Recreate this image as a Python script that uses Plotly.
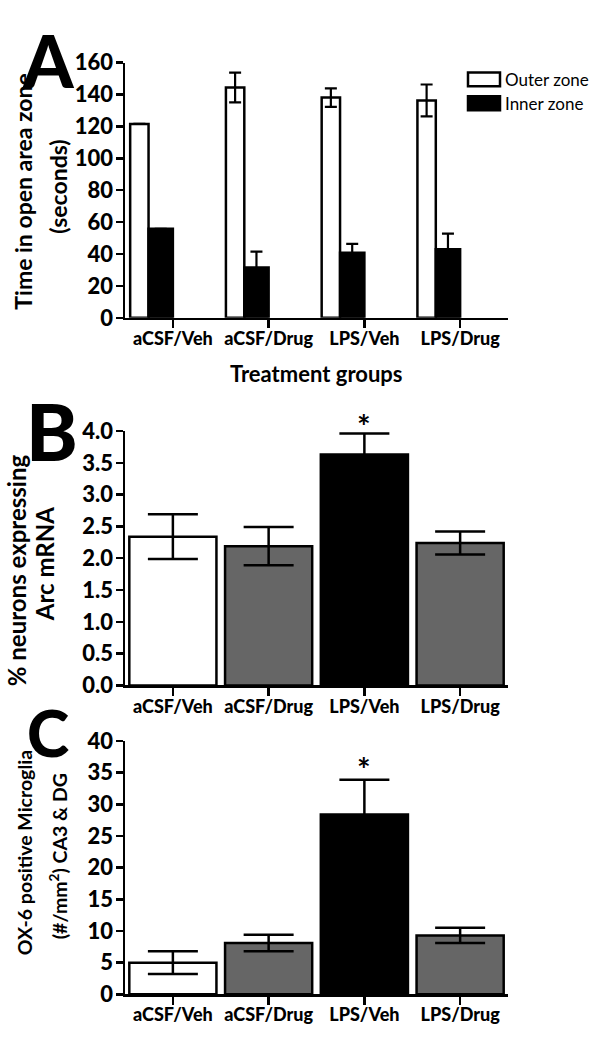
import plotly.graph_objects as go

W, H = 600, 1038

# ---------------- data ----------------
groups = ["aCSF/Veh", "aCSF/Drug", "LPS/Veh", "LPS/Drug"]

# Panel A: time in open area zone (seconds)
outer_zone = [121.5, 144.3, 138.0, 136.2]
outer_err = [None, 9.3, 5.8, 10.0]
inner_zone = [55.8, 31.5, 40.8, 42.9]
inner_err = [None, 10.0, 5.6, 9.8]

# Panel B: % neurons expressing Arc mRNA
arc_mrna = [2.34, 2.19, 3.63, 2.24]
arc_err = [0.35, 0.30, 0.33, 0.18]

# Panel C: OX-6 positive microglia (#/mm2)
ox6 = [5.0, 8.1, 28.4, 9.3]
ox6_err = [1.8, 1.3, 5.5, 1.2]

bar_colors = ["white", "#666666", "black", "#666666"]
significant = [False, False, True, False]

# ---------------- helpers ----------------
def fx(px):
    return px / W

def fy(py):
    # slight vertical stretch about the page centre
    py = 519 + (py - 519) * 1.02
    return 1 - py / H

FONT = "Lato"
BLACK = "black"
LW = 2.5
HEAVY = 900

fig = go.Figure()

pos = list(range(len(groups)))

# Panel A bars
fig.add_trace(go.Bar(
    x=pos, y=outer_zone, name="Outer zone",
    offset=-0.446, width=0.192,
    marker=dict(color="white", line=dict(color=BLACK, width=LW)),
    error_y=dict(type="data", array=outer_err, visible=True, color=BLACK, thickness=2.2, width=6),
    xaxis="x", yaxis="y", showlegend=False,
))
fig.add_trace(go.Bar(
    x=pos, y=inner_zone, name="Inner zone",
    offset=-0.254, width=0.254,
    marker=dict(color="black", line=dict(color=BLACK, width=LW)),
    error_y=dict(type="data", array=inner_err, visible=True, color=BLACK, thickness=2.2, width=6),
    xaxis="x", yaxis="y", showlegend=False,
))

# Panel B bars
fig.add_trace(go.Bar(
    x=pos, y=arc_mrna, width=0.91,
    marker=dict(color=bar_colors, line=dict(color=BLACK, width=LW)),
    error_y=dict(type="data", array=arc_err, visible=True, color=BLACK, thickness=2.5, width=25),
    xaxis="x2", yaxis="y2", showlegend=False,
))

# Panel C bars
fig.add_trace(go.Bar(
    x=pos, y=ox6, width=0.91,
    marker=dict(color=bar_colors, line=dict(color=BLACK, width=LW)),
    error_y=dict(type="data", array=ox6_err, visible=True, color=BLACK, thickness=2.5, width=25),
    xaxis="x3", yaxis="y3", showlegend=False,
))

tickfont = dict(family=FONT, size=22, color=BLACK, weight=HEAVY)
xtickfont = dict(family=FONT, size=18, color=BLACK, weight=HEAVY)

def xax(anchor):
    return dict(
        domain=[fx(125), fx(508)], range=[-0.5, 3.5],
        tickvals=pos, ticktext=groups,
        ticks="outside", ticklen=8, tickwidth=LW, tickcolor=BLACK,
        showline=True, linewidth=LW, linecolor=BLACK,
        showgrid=False, zeroline=False, tickfont=xtickfont,
        ticklabelstandoff=-5,
        anchor=anchor, fixedrange=True,
    )

def yax(top_px, bot_px, rng, dtick, fmt, anchor):
    return dict(
        domain=[fy(bot_px), fy(top_px)], range=rng, dtick=dtick, tick0=0,
        tickformat=fmt,
        ticks="outside", ticklen=7, tickwidth=LW, tickcolor=BLACK,
        showline=True, linewidth=LW, linecolor=BLACK,
        showgrid=False, zeroline=False, tickfont=tickfont,
        ticklabelstandoff=-2,
        anchor=anchor, fixedrange=True,
    )

fig.update_layout(
    width=W, height=H,
    margin=dict(l=0, r=0, t=0, b=0),
    paper_bgcolor="white", plot_bgcolor="white",
    barmode="overlay", bargap=0,
    xaxis=xax("y"),
    yaxis=yax(59, 316, [0, 160], 20, "d", "x"),
    xaxis2=xax("y2"),
    yaxis2=yax(430, 686, [0, 4], 0.5, ".1f", "x2"),
    xaxis3=xax("y3"),
    yaxis3=yax(742, 997, [0, 40], 5, "d", "x3"),
    font=dict(family=FONT, color=BLACK),
)

ann = []
# Panel letters
ann.append(dict(text="A", x=fx(48), y=1, xref="paper", yref="paper",
                xanchor="center", yanchor="top", showarrow=False, yshift=-1,
                font=dict(family=FONT, size=72, color=BLACK, weight=HEAVY)))
for letter, cx, cy, sz in [("B", 52, 430, 78), ("C", 48, 733, 64)]:
    ann.append(dict(text=letter, x=fx(cx), y=fy(cy), xref="paper", yref="paper",
                    xanchor="center", yanchor="middle", showarrow=False,
                    font=dict(family=FONT, size=sz, color=BLACK, weight=HEAVY)))

# Y-axis titles (one annotation per line)
def vtitle(text, cx, cy, size):
    ann.append(dict(text=text, x=fx(cx), y=fy(cy), xref="paper", yref="paper",
                    textangle=-90, showarrow=False, xanchor="center", yanchor="middle",
                    font=dict(family=FONT, size=size, color=BLACK, weight="bold")))

vtitle("Time in open area zone", 23, 189, 23)
vtitle("(seconds)", 58, 184, 23)
vtitle("% neurons expressing", 16, 570, 24)
vtitle("Arc mRNA", 44, 564, 24)
vtitle("OX-6 positive Microglia", 24, 855, 19.5)
vtitle("(#/mm<sup>2</sup>) CA3 &amp; DG", 58, 858, 19.5)

# X title panel A
ann.append(dict(text="Treatment groups", x=fx(316), y=fy(372), xref="paper", yref="paper",
                showarrow=False, xanchor="center", yanchor="middle",
                font=dict(family=FONT, size=22, color=BLACK, weight="bold")))

# Significance stars
for i, sig in enumerate(significant):
    if sig:
        ann.append(dict(text="*", x=i, y=arc_mrna[i] + arc_err[i], xref="x2", yref="y2",
                        showarrow=False, yanchor="bottom", yshift=-14,
                        font=dict(family=FONT, size=32, color=BLACK, weight="bold")))
        ann.append(dict(text="*", x=i, y=ox6[i] + ox6_err[i], xref="x3", yref="y3",
                        showarrow=False, yanchor="bottom", yshift=-11,
                        font=dict(family=FONT, size=32, color=BLACK, weight="bold")))

# Legend (panel A)
legend_items = [("Outer zone", "white", 76), ("Inner zone", "black", 100)]
shapes = []
for label, col, cy in legend_items:
    shapes.append(dict(type="rect", xref="paper", yref="paper",
                       x0=fx(468), x1=fx(500), y0=fy(cy + 7), y1=fy(cy - 7),
                       fillcolor=col, line=dict(color=BLACK, width=2.5)))
    ann.append(dict(text=label, x=fx(503), y=fy(cy), xref="paper", yref="paper",
                    showarrow=False, xanchor="left", yanchor="middle",
                    font=dict(family=FONT, size=17, color=BLACK)))

fig.update_layout(annotations=ann, shapes=shapes)

fig.write_html(
    "out.html",
    config={"displayModeBar": False, "staticPlot": True},
    post_script="document.body.style.margin='0';document.body.style.overflow='hidden';",
)
